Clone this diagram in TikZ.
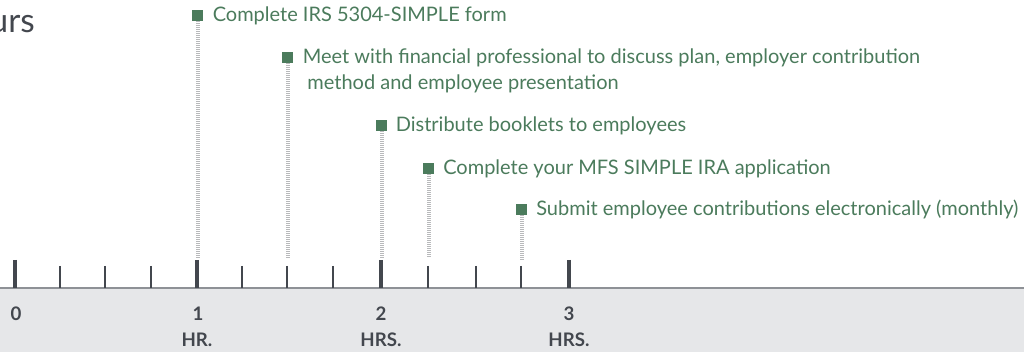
\documentclass[tikz,border=0pt]{standalone}
\usepackage{fontspec}
\setmainfont{Lato}
\usetikzlibrary{calc,positioning}

\definecolor{sagegreen}{HTML}{4B7B5C}
\definecolor{slate}{HTML}{43474E}
\definecolor{bandgray}{HTML}{E6E7E9}
\definecolor{rulegray}{HTML}{8E9196}
\definecolor{stripegray}{HTML}{B8B9BB}

\begin{document}
\begin{tikzpicture}[x=0.75pt,y=-0.75pt,
    markbox/.style={fill=sagegreen, minimum size=8pt, inner sep=0pt},
    task/.style={anchor=base west, inner sep=0pt, text=sagegreen, align=left,
      font=\fontsize{15}{19.5}\selectfont},
    stripe/.style={stripegray, line width=3pt, dash pattern=on 0.75pt off 0.75pt},
    majortick/.style={slate, line width=3.6pt},
    minortick/.style={slate, line width=0.8pt},
    hour/.style={anchor=base, inner sep=0pt, text=slate,
      font=\bfseries\fontsize{14}{16}\selectfont}]

    \useasboundingbox (0,0) rectangle (1024,352);

    % band under the axis
    \fill[bandgray] (0,288) rectangle (1024,352);
    \draw[rulegray, line width=0.8pt] (0,288) -- (1024,288);

    \node[anchor=base east, inner sep=0pt, text=slate, font=\fontsize{25}{30}\selectfont] (title) at (35,33) {urs};

    % ticks
    \foreach \x in {60,105,151,242,287,333,428,476,521}
        \draw[minortick] (\x,266) -- (\x,288);
    \foreach \x in {15,197,381,569}
        \draw[majortick] (\x,260) -- (\x,288);

    % hour labels
    \node[hour] (h0) at (16,321) {0};
    \node[hour] (h1) at (198,321) {1};
    \node[hour] (h1u) at (197,347) {HR.};
    \node[hour] (h2) at (381,321) {2};
    \node[hour] (h2u) at (381,347) {HRS.};
    \node[hour] (h3) at (569,321) {3};
    \node[hour] (h3u) at (569,347) {HRS.};

    % milestones
    \coordinate (base) at (0,258);

    \node[markbox] (m1) at (197.5,15.5) {};
    \node[task] (l1) at ($(m1.center)+(15,6.5)$) {Complete IRS 5304-SIMPLE form};

    \node[markbox] (m2) at (287.5,57.5) {};
    \node[task] (l2) at ($(m2.center)+(15,32.5)$) {Meet with financial professional to discuss plan, employer contribution\\\hspace*{3.5pt}method and employee presentation};

    \node[markbox] (m3) at (381.5,125.5) {};
    \node[task] (l3) at ($(m3.center)+(14,6.5)$) {Distribute booklets to employees};

    \node[markbox] (m4) at (428.5,168.5) {};
    \node[task] (l4) at ($(m4.center)+(14.5,6.5)$) {Complete your MFS SIMPLE IRA application};

    \node[markbox] (m5) at (521.5,209.5) {};
    \node[task] (l5) at ($(m5.center)+(14.5,6.5)$) {Submit employee contributions electronically (monthly)};

    \draw[stripe] (m1.south) -- (m1 |- base);
    \draw[stripe] (m2.south) -- (m2 |- base);
    \draw[stripe] (m3.south) -- (m3 |- base);
    \draw[stripe] (m4.south) -- (m4 |- base);
    \draw[stripe] (m5.south) -- ($(m5 |- base)+(0,2)$);

\end{tikzpicture}
\end{document}
